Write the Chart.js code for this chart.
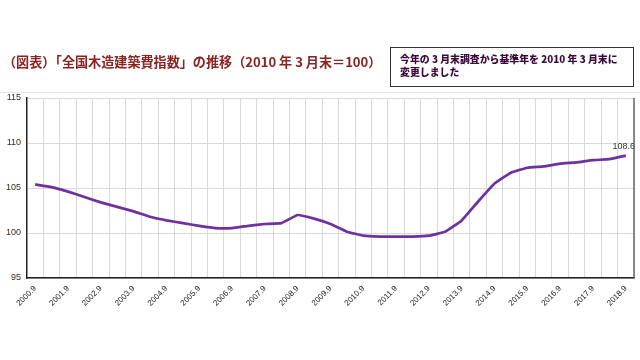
<!DOCTYPE html>
<html><head><meta charset="utf-8">
<script src="https://cdn.jsdelivr.net/npm/chart.js@4/dist/chart.umd.min.js"></script>
<style>
html,body{margin:0;padding:0;background:#fff;width:640px;height:360px;overflow:hidden;}
#wrap{position:absolute;left:0;top:0;width:640px;height:360px;}
#title{position:absolute;left:3px;top:52px;font-family:"Noto Sans CJK JP";font-weight:bold;font-size:13.1px;color:#8b2323;white-space:nowrap;}
#note{position:absolute;left:390px;top:47px;width:244px;height:40px;box-sizing:border-box;border:1px solid #333;font-family:"Noto Sans CJK JP";font-weight:900;font-size:9.9px;line-height:13px;color:#3a0a3a;padding:5px 0 0 9px;white-space:nowrap;}
#hline{position:absolute;left:0;top:92px;width:640px;height:1px;background:#e6e6e6;}
</style></head>
<body>
<div id="wrap"><canvas id="c" width="640" height="360"></canvas></div>
<div id="hline"></div>
<div id="title">（図表）「全国木造建築費指数」の推移（2010 年 3 月末＝100）</div>
<div id="note">今年の 3 月末調査から基準年を 2010 年 3 月末に<br>変更しました</div>
<script>
const categories = ["2000.9","2001.3","2001.9","2002.3","2002.9","2003.3","2003.9","2004.3","2004.9","2005.3","2005.9","2006.3","2006.9","2007.3","2007.9","2008.3","2008.9","2009.3","2009.9","2010.3","2010.9","2011.3","2011.9","2012.3","2012.9","2013.3","2013.9","2014.3","2014.9","2015.3","2015.9","2016.3","2016.9","2017.3","2017.9","2018.3","2018.9"];
const indexValues = [105.4,105.1,104.6,104.0,103.4,102.9,102.4,101.8,101.4,101.1,100.8,100.55,100.55,100.8,101.0,101.1,102.0,101.6,101.0,100.15,99.7,99.6,99.6,99.6,99.7,100.15,101.4,103.5,105.5,106.7,107.25,107.4,107.7,107.85,108.1,108.2,108.6];
const yTicks = [95,100,105,110,115];
const lastLabel = "108.6";

const labelPlugin = {
  id:'lastLabel',
  afterDatasetsDraw(chart){
    const meta = chart.getDatasetMeta(0);
    const p = meta.data[meta.data.length-1];
    const ctx = chart.ctx;
    ctx.save();
    ctx.font = '9px "Liberation Sans", Arial, sans-serif';
    ctx.fillStyle = '#333';
    ctx.textAlign = 'center';
    ctx.textBaseline = 'bottom';
    ctx.fillText(lastLabel, p.x-2, p.y-5);
    ctx.restore();
  }
};
const borderPlugin = {
  id:'frame',
  afterDraw(chart){
    const a = chart.chartArea, ctx = chart.ctx;
    ctx.save();
    ctx.strokeStyle = '#666';
    ctx.lineWidth = 1.5;
    ctx.beginPath();
    ctx.moveTo(a.right, a.top); ctx.lineTo(a.right, a.bottom);
    ctx.stroke();
    ctx.restore();
  }
};

new Chart(document.getElementById('c'), {
  type:'line',
  data:{labels:categories, datasets:[{data:indexValues, borderColor:'#7030a0', borderWidth:2.7, pointRadius:0, tension:0.1, fill:false}]},
  options:{
    responsive:false, animation:false,
    layout:{padding:{left:0,right:6,top:98,bottom:0}},
    plugins:{legend:{display:false}, tooltip:{enabled:false}},
    scales:{
      x:{
        offset:true,
        grid:{offset:true, color:'#d9d9d9', lineWidth:1, drawTicks:false},
        border:{color:'#222', width:1.5},
        ticks:{autoSkip:false, maxRotation:45, minRotation:45, padding:6, color:'#222', font:{size:8, family:'"Liberation Sans", Arial, sans-serif'},
          callback:function(v,i){return i%2===0 ? categories[i] : '';}},
        afterFit(s){s.height=82;}
      },
      y:{
        min:95, max:115,
        afterBuildTicks(s){s.ticks = yTicks.map(v=>({value:v}));},
        grid:{color:'#d9d9d9', drawTicks:false},
        border:{color:'#222', width:1.5},
        ticks:{padding:6, color:'#3a2a20', font:{size:9, family:'"Liberation Sans", Arial, sans-serif'}},
        afterFit(s){s.width=27;}
      }
    }
  },
  plugins:[labelPlugin, borderPlugin]
});
</script>
</body></html>
